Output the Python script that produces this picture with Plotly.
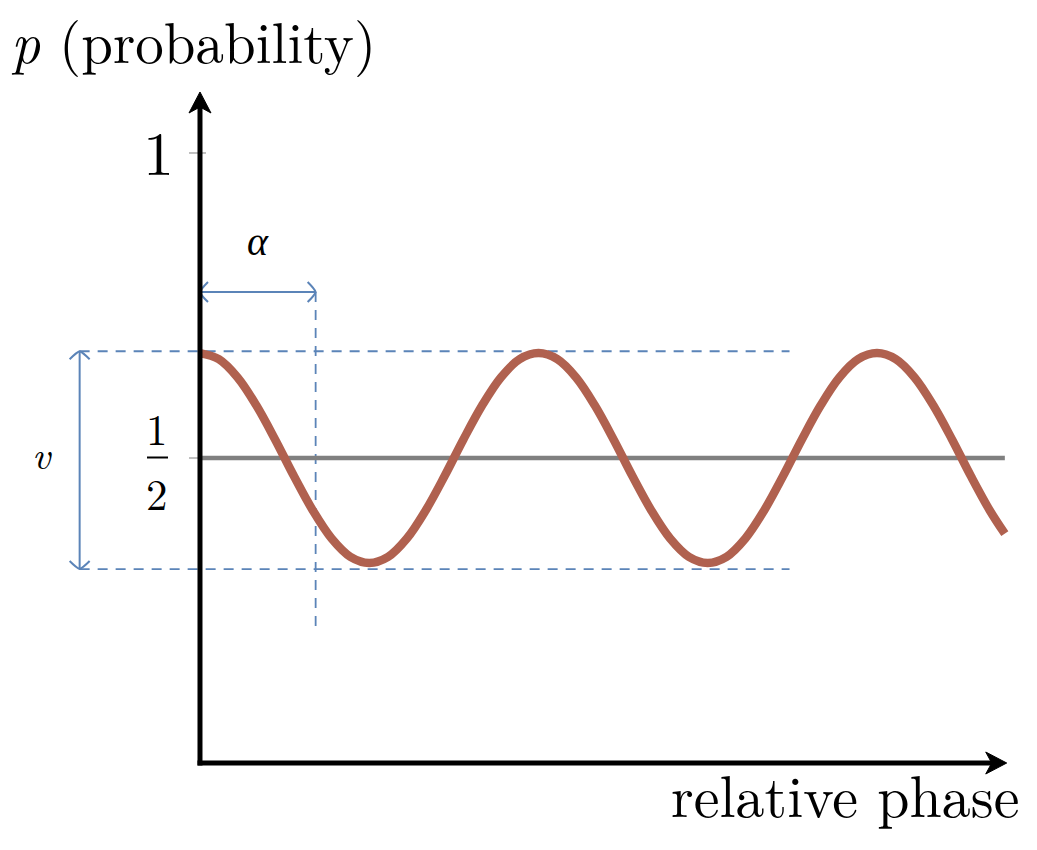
import plotly.graph_objects as go

# ---------------- data ----------------
# relative phase in degrees, probability p
phase_deg = [0, 20, 40, 60, 80, 100, 120, 140, 160, 180, 200, 220, 240, 260, 280, 300, 320, 340,
             360, 380, 400, 420, 440, 460, 480, 500, 520, 540, 560, 580, 600, 620, 640, 660, 680, 700,
             720, 740, 760, 780, 800, 820, 840, 856]
prob = [0.672, 0.662, 0.632, 0.586, 0.530, 0.470, 0.414, 0.368, 0.338, 0.328,
        0.338, 0.368, 0.414, 0.470, 0.530, 0.586, 0.632, 0.662,
        0.672, 0.662, 0.632, 0.586, 0.530, 0.470, 0.414, 0.368, 0.338, 0.328,
        0.338, 0.368, 0.414, 0.470, 0.530, 0.586, 0.632, 0.662,
        0.672, 0.662, 0.632, 0.586, 0.530, 0.470, 0.414, 0.376]

half_level = 0.5
phase_end = 856
alpha_deg = 123          # alpha marker position
v_top = 0.675            # visibility band (dashed lines)
v_bottom = 0.318
dash_x_start = -128
dash_x_end = 627
v_arrow_x = -128
alpha_arrow_y = 0.772
alpha_line_bottom = 0.223
y_axis_top = 1.10
x_axis_end = 858

tick_vals = [1.0, 0.5]
y_title = "(probability)"
x_title = "relative phase"

# ---------------- styling ----------------
FONT = "Latin Modern Roman"
CURVE = "#b0614f"
GRAY = "#808080"
BLUE = "#5b84b8"
X_RANGE = [-212.7, 890.2]
Y_RANGE = [-0.1426, 1.2508]
DX = (X_RANGE[1] - X_RANGE[0]) / 1037.0   # data units per px
DY = (Y_RANGE[1] - Y_RANGE[0]) / 850.0


def px_x(px):
    return X_RANGE[0] + px * DX


def px_y(py):
    return Y_RANGE[1] - py * DY


fig = go.Figure()

# half level line
fig.add_trace(go.Scatter(x=[0, phase_end], y=[half_level, half_level], mode="lines",
                         line=dict(color=GRAY, width=4.5), hoverinfo="skip"))
# probability curve
fig.add_trace(go.Scatter(x=phase_deg, y=prob, mode="lines",
                         line=dict(color=CURVE, width=8.5, shape="spline", smoothing=1.0),
                         hoverinfo="skip"))

shapes = []
dash = "10px,8px"
for yv in (v_top, v_bottom):
    shapes.append(dict(type="line", x0=dash_x_start, x1=dash_x_end, y0=yv, y1=yv,
                       line=dict(color=BLUE, width=1.8, dash=dash), layer="below"))
shapes.append(dict(type="line", x0=alpha_deg, x1=alpha_deg, y0=alpha_arrow_y, y1=alpha_line_bottom,
                   line=dict(color=BLUE, width=1.8, dash=dash), layer="below"))
shapes.append(dict(type="line", x0=0, x1=alpha_deg, y0=alpha_arrow_y, y1=alpha_arrow_y,
                   line=dict(color=BLUE, width=2)))
shapes.append(dict(type="line", x0=v_arrow_x, x1=v_arrow_x, y0=v_top, y1=v_bottom,
                   line=dict(color=BLUE, width=2)))


def chevron(xt, yt, ux, uy, length=8, half=10):
    """open arrow head with tip at (xt,yt) pointing in pixel direction (ux,uy)"""
    px, py = -uy, ux
    bx = xt - ux * length * DX
    by = yt - uy * length * DY
    p1 = (bx + px * half * DX, by + py * half * DY)
    p2 = (bx - px * half * DX, by - py * half * DY)
    c1 = (xt - ux * 1 * DX + px * half * 0.3 * DX, yt - uy * 1 * DY + py * half * 0.3 * DY)
    c2 = (xt - ux * 1 * DX - px * half * 0.3 * DX, yt - uy * 1 * DY - py * half * 0.3 * DY)
    return (f"M{p1[0]},{p1[1]} Q{c1[0]},{c1[1]} {xt},{yt} "
            f"Q{c2[0]},{c2[1]} {p2[0]},{p2[1]}")


for path in (chevron(0, alpha_arrow_y, -1, 0), chevron(alpha_deg, alpha_arrow_y, 1, 0),
             chevron(v_arrow_x, v_top, 0, 1), chevron(v_arrow_x, v_bottom, 0, -1)):
    shapes.append(dict(type="path", path=path, line=dict(color=BLUE, width=2)))


def stealth(xt, yt, ux, uy, length=21, half=11, notch=6):
    px, py = -uy, ux
    bx = xt - ux * length * DX
    by = yt - uy * length * DY
    nx = xt - ux * (length - notch) * DX
    ny = yt - uy * (length - notch) * DY
    p1 = (bx + px * half * DX, by + py * half * DY)
    p2 = (bx - px * half * DX, by - py * half * DY)
    return f"M{xt},{yt} L{p1[0]},{p1[1]} L{nx},{ny} L{p2[0]},{p2[1]} Z"


# axes
shapes.append(dict(type="line", x0=0, x1=0, y0=-2.5 * DY, y1=y_axis_top - 10 * DY,
                   line=dict(color="black", width=5)))
shapes.append(dict(type="line", x0=-2.5 * DX, x1=x_axis_end - 10 * DX, y0=0, y1=0,
                   line=dict(color="black", width=5)))
shapes.append(dict(type="path", path=stealth(0, y_axis_top, 0, 1),
                   fillcolor="black", line=dict(color="black", width=1)))
shapes.append(dict(type="path", path=stealth(x_axis_end, 0, 1, 0),
                   fillcolor="black", line=dict(color="black", width=1)))
# tick marks
for tv in tick_vals:
    shapes.append(dict(type="line", x0=-11 * DX, x1=6 * DX, y0=tv, y1=tv,
                       line=dict(color=GRAY, width=1), layer="below"))
# fraction bar for 1/2
shapes.append(dict(type="line", x0=px_x(147), x1=px_x(168), y0=0.5 + 0.5 * DY, y1=0.5 + 0.5 * DY,
                   line=dict(color="black", width=2)))


def txt(x, y, text, size, xanchor="center", yanchor="middle"):
    return dict(x=x, y=y, text=text, showarrow=False, xanchor=xanchor, yanchor=yanchor,
                font=dict(family=FONT, size=size, color="black"))


annotations = [
    txt(px_x(9), px_y(39), "<i>p</i> " + y_title, 57, "left"),
    txt(px_x(1021), px_y(793), x_title, 58, "right"),
    txt(px_x(158), px_y(149), "1", 62),
    txt(px_x(157), px_y(459), "1", 43, yanchor="bottom"),
    txt(px_x(157), px_y(460), "2", 43, yanchor="top"),
    txt(alpha_deg / 2, px_y(238), "<i>α</i>", 40),
    txt(px_x(42), px_y(452), "<i>v</i>", 40),
]

fig.update_layout(
    width=1037, height=850,
    margin=dict(l=0, r=0, t=0, b=0),
    paper_bgcolor="white", plot_bgcolor="white",
    showlegend=False,
    xaxis=dict(range=X_RANGE, visible=False, fixedrange=True),
    yaxis=dict(range=Y_RANGE, visible=False, fixedrange=True),
    shapes=shapes,
    annotations=annotations,
)

fig.write_html("out.html", post_script="document.body.style.margin='0';",
               config={"displayModeBar": False})
